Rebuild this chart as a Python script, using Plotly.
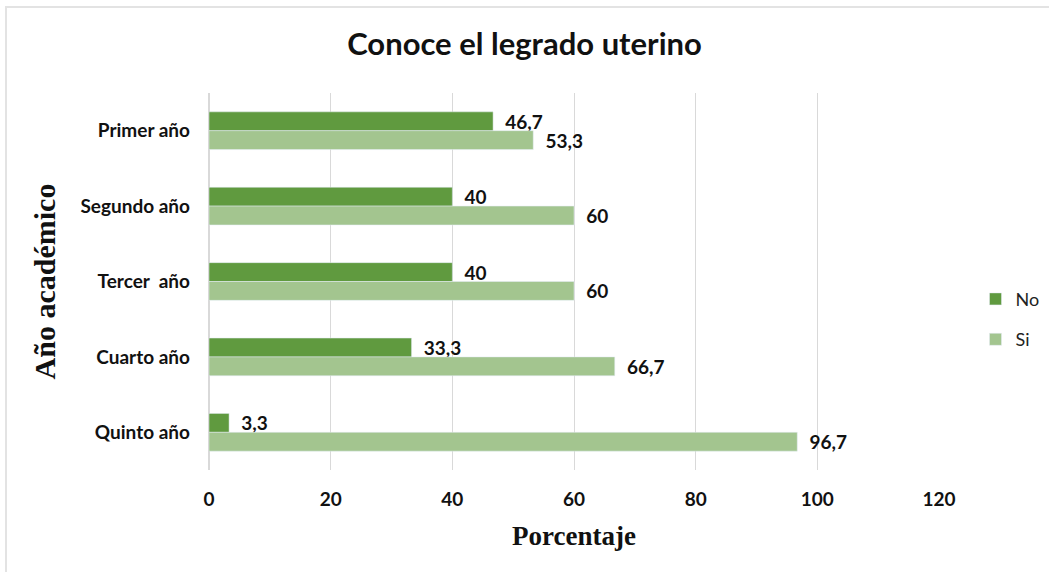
import plotly.graph_objects as go

categories = ["Primer año", "Segundo año", "Tercer  año", "Cuarto año", "Quinto año"]
no_values = [46.7, 40, 40, 33.3, 3.3]
si_values = [53.3, 60, 60, 66.7, 96.7]
x_ticks = [0, 20, 40, 60, 80, 100, 120]

def fmt(v):
    return ("%g" % v).replace(".", ",")

label_font = dict(family="Lato, Open Sans, sans-serif", size=19, color="#111111", weight="bold")
tick_font = dict(family="Lato, Open Sans, sans-serif", size=19, color="#111111", weight="bold")

fig = go.Figure()
fig.add_trace(go.Bar(
    y=categories, x=no_values, name="No", orientation="h",
    marker=dict(color="#609a3f"),
    text=[fmt(v) for v in no_values], texttemplate="  %{text}",
    textposition="outside", textfont=label_font, cliponaxis=False,
    constraintext="none",
    legendgroup="a",
))
fig.add_trace(go.Bar(
    y=categories, x=si_values, name="Si", orientation="h",
    marker=dict(color="#a3c58f"),
    text=[fmt(v) for v in si_values], texttemplate="  %{text}",
    textposition="outside", textfont=label_font, cliponaxis=False,
    constraintext="none",
    legendgroup="b",
))

fig.update_layout(
    width=1049, height=572,
    paper_bgcolor="white", plot_bgcolor="white",
    margin=dict(l=209, r=110, t=93, b=102, autoexpand=False),
    barmode="group", bargap=0.5, bargroupgap=0,
    separators=",.",
    title=dict(text="<b>Conoce el legrado uterino</b>", x=0.5, xanchor="center",
               y=0.922, yanchor="middle",
               font=dict(family="Lato, Open Sans, sans-serif", size=31, color="#111111")),
    legend=dict(x=1.05, y=0.40, xanchor="left", yanchor="middle",
                font=dict(family="Lato, Open Sans, sans-serif", size=18, color="#222222"),
                tracegroupgap=14, itemwidth=30),
    xaxis=dict(range=[0, 120], tickvals=x_ticks, showgrid=True, gridcolor="#d9d9d9",
               zeroline=True, zerolinecolor="#d9d9d9", showline=False, automargin=False,
               tickfont=tick_font,
               ticklabelstandoff=16,
               title=dict(text="<b>Porcentaje</b>", standoff=17,
                          font=dict(family="Liberation Serif, serif", size=27, color="#111111"))),
    yaxis=dict(autorange="reversed", showgrid=False, showline=False, automargin=False,
               tickfont=tick_font,
               ticklabelstandoff=18,
               title=dict(text="<b>Año académico</b>", standoff=15,
                          font=dict(family="Liberation Serif, serif", size=30, color="#111111"))),
    shapes=[
        dict(type="line", xref="paper", yref="paper",
             x0=(5 - 209) / 730, x1=(1049 - 209) / 730,
             y0=(572 - 102 - 7) / 377, y1=(572 - 102 - 7) / 377,
             line=dict(color="#e3e3e3", width=2)),
        dict(type="line", xref="paper", yref="paper",
             x0=(6 - 209) / 730, x1=(6 - 209) / 730,
             y0=(572 - 102 - 7) / 377, y1=-102 / 377,
             line=dict(color="#e3e3e3", width=2)),
    ],
)

fig.write_html("out.html", config={"displayModeBar": False},
               post_script="document.body.style.margin='0';")
